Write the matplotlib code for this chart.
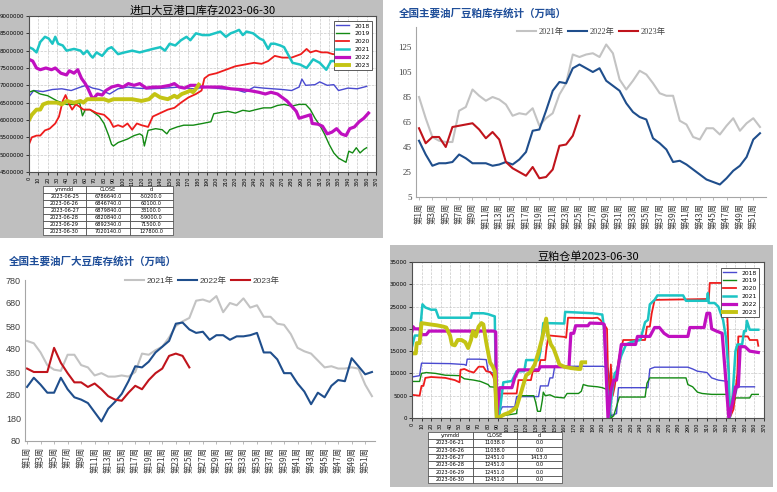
import matplotlib
matplotlib.use("Agg")
import matplotlib.pyplot as plt
from matplotlib.patches import Rectangle
import numpy as np

plt.rcParams['font.family'] = ['Noto Sans CJK SC', 'DejaVu Sans']

W, H = 777, 492

# ---------- data: 进口大豆港口库存 (millions of tons, by day of year) ----------
port_years = ['2018', '2019', '2020', '2021', '2022', '2023']
port_2018_d = [0, 5, 15, 25, 35, 45, 55, 61, 68, 75, 86, 95, 105, 115, 130, 145, 160, 175, 190, 205,
               220, 230, 240, 250, 260, 270, 280, 288, 291, 295, 305, 310, 318, 325, 330, 340, 350, 360]
port_2018_v = [6.67, 6.85, 6.82, 6.88, 6.9, 6.85, 6.95, 7.0, 6.92, 6.88, 6.75, 6.9, 6.95, 6.92, 6.9, 6.92, 6.95, 6.9, 6.95, 6.9,
               6.88, 6.8, 6.95, 6.92, 6.9, 6.88, 6.85, 6.95, 7.18, 7.0, 7.02, 7.1, 7.0, 7.02, 6.85, 6.92, 6.9, 6.97]
port_2019_d = [0, 5, 12, 20, 30, 40, 50, 54, 57, 60, 65, 70, 75, 80, 85, 88, 90, 95, 105, 112,
               118, 121, 123, 127, 135, 142, 147, 150, 158, 165, 175, 185, 194, 197, 205, 212, 220, 228, 235, 242,
               250, 258, 265, 272, 280, 288, 295, 300, 305, 310, 315, 320, 325, 330, 338, 341, 345, 349, 353, 357, 360]
port_2019_v = [6.8, 6.85, 6.75, 6.7, 6.55, 6.45, 6.45, 6.5, 6.12, 6.3, 6.3, 6.2, 6.1, 5.9, 5.55, 5.3, 5.25, 5.35, 5.45, 5.55,
               5.6, 5.55, 5.25, 5.7, 5.75, 5.72, 5.6, 5.72, 5.8, 5.85, 5.85, 5.9, 5.95, 6.18, 6.22, 6.25, 6.2, 6.28, 6.25, 6.3,
               6.35, 6.35, 6.42, 6.45, 6.4, 6.45, 6.45, 6.3, 6.05, 5.85, 5.6, 5.3, 5.05, 4.9, 4.78, 5.1, 5.05, 5.2, 5.05, 5.15, 5.2]
port_2020_d = [0, 3, 8, 12, 17, 22, 28, 32, 36, 39, 42, 46, 50, 53, 58, 65, 72, 80, 86, 90,
               95, 100, 105, 110, 115, 120, 127, 132, 140, 148, 155, 162, 170, 178, 184, 187, 192, 200, 210, 220,
               230, 240, 248, 255, 262, 270, 280, 290, 296, 300, 306, 312, 318, 324, 330, 333]
port_2020_v = [5.3, 5.5, 5.55, 5.55, 5.7, 5.75, 5.9, 6.1, 6.55, 6.72, 6.5, 6.3, 6.45, 6.4, 6.3, 6.3, 6.2, 6.15, 6.0, 5.8,
               5.85, 5.8, 5.9, 5.72, 5.9, 5.85, 5.8, 6.1, 6.2, 6.3, 6.35, 6.5, 6.65, 6.75, 6.85, 7.2, 7.3, 7.35, 7.45, 7.55,
               7.6, 7.65, 7.62, 7.7, 7.85, 7.8, 7.8, 7.9, 8.05, 7.95, 8.0, 7.95, 7.95, 7.9, 7.9, 7.85]
port_2021_d = [0, 4, 8, 12, 17, 21, 25, 28, 31, 36, 40, 48, 55, 58, 62, 66, 68, 72, 78, 84,
               88, 95, 102, 110, 118, 125, 132, 140, 145, 150, 156, 162, 168, 172, 178, 185, 192, 198, 204, 210,
               215, 220, 224, 228, 232, 239, 246, 250, 255, 258, 262, 268, 272, 276, 281, 289, 296, 303, 310, 317,
               322, 330, 336, 339]
port_2021_v = [8.1, 8.05, 7.95, 8.25, 8.4, 8.35, 8.2, 8.4, 8.2, 8.15, 8.0, 8.05, 8.0, 7.9, 8.0, 7.85, 7.8, 7.95, 7.85, 8.05,
               8.1, 7.9, 7.95, 8.0, 7.95, 8.0, 8.05, 8.1, 8.0, 8.2, 8.15, 8.3, 8.4, 8.3, 8.5, 8.45, 8.45, 8.5, 8.55, 8.4,
               8.5, 8.55, 8.6, 8.45, 8.55, 8.5, 8.35, 8.3, 8.05, 8.2, 8.2, 8.15, 8.1, 7.9, 7.65, 7.6, 7.5, 7.75, 7.65, 7.45,
               7.7, 7.7, 7.65, 7.48]
port_2022_d = [0, 4, 8, 12, 18, 24, 28, 34, 40, 43, 48, 52, 56, 60, 63, 68, 73, 78, 82, 88,
               95, 100, 106, 112, 118, 125, 132, 140, 150, 155, 160, 166, 172, 178, 185, 195, 205, 215, 225, 235,
               245, 252, 258, 265, 270, 275, 280, 285, 288, 294, 300, 302, 308, 313, 318, 323, 328, 333, 338, 342,
               347, 352, 357, 362]
port_2022_v = [7.75, 7.7, 7.5, 7.45, 7.5, 7.45, 7.5, 7.35, 7.3, 7.42, 7.35, 7.45, 7.2, 7.05, 6.9, 6.6, 6.75, 6.72, 6.85, 6.95,
               7.0, 6.95, 7.05, 7.0, 7.05, 6.92, 6.95, 6.95, 7.0, 7.05, 6.95, 6.92, 7.0, 7.0, 6.95, 6.95, 6.95, 6.9, 6.88, 6.85,
               6.8, 6.75, 6.8, 6.75, 6.65, 6.55, 6.4, 6.25, 6.05, 6.1, 6.15, 5.9, 5.88, 5.82, 5.6, 5.65, 5.75, 5.6, 5.55, 5.75,
               5.8, 5.95, 6.05, 6.2]
port_2023_d = [0, 3, 8, 12, 15, 20, 30, 35, 40, 48, 55, 58, 62, 70, 80, 85, 90, 100, 110, 120,
               128, 134, 140, 148, 155, 158, 163, 168, 172, 175, 178, 181]
port_2023_v = [6.0, 6.15, 6.3, 6.3, 6.45, 6.5, 6.5, 6.45, 6.55, 6.5, 6.55, 6.5, 6.6, 6.6, 6.6, 6.55, 6.6, 6.6, 6.6, 6.55,
               6.6, 6.75, 6.65, 6.6, 6.7, 6.65, 6.75, 6.8, 6.85, 6.8, 6.9, 7.02]

port_tab_dates = ['2023-06-25', '2023-06-26', '2023-06-27', '2023-06-28', '2023-06-29', '2023-06-30']
port_tab_close = ['6786640.0', '6846740.0', '6879840.0', '6820840.0', '6892340.0', '7020140.0']
port_tab_d = ['-50200.0', '60100.0', '33100.0', '-59000.0', '71500.0', '127800.0']

# ---------- data: 豆粕仓单 (thousands, by day of year) ----------
cd_2018_d = [0, 8, 10, 40, 55, 57, 58, 70, 78, 80, 86, 88, 90, 95, 108, 110, 133, 135, 143, 145,
             148, 150, 200, 203, 206, 208, 209, 215, 217, 248, 250, 255, 290, 295, 300, 310, 315, 322, 332, 333,
             335, 340, 342, 360]
cd_2018_v = [9.2, 9.5, 12.3, 12.2, 12.0, 11.8, 13.2, 13.2, 13.1, 10.5, 10.0, 0.0, 0.5, 2.5, 2.5, 4.8, 4.8, 7.2, 7.2, 9.0,
             9.0, 11.6, 11.6, 11.5, 11.2, 8.8, 0.5, 1.0, 6.8, 6.8, 11.0, 11.4, 11.4, 11.0, 10.5, 10.2, 9.0, 8.5, 8.2, 0.0,
             2.0, 5.0, 7.0, 7.0]
cd_2019_d = [0, 8, 10, 15, 25, 35, 50, 55, 65, 72, 80, 82, 88, 90, 95, 110, 112, 128, 130, 132,
             135, 137, 138, 140, 145, 150, 160, 163, 175, 178, 180, 185, 195, 200, 205, 207, 209, 212, 218, 245,
             247, 250, 288, 290, 295, 300, 305, 315, 331, 333, 340, 355, 357, 364]
cd_2019_v = [8.2, 8.2, 10.0, 10.2, 10.0, 9.6, 9.5, 8.8, 8.5, 8.2, 7.5, 7.0, 6.9, 0.0, 0.5, 1.0, 5.0, 5.0, 3.5, 1.5,
             1.5, 4.0, 5.8, 5.0, 5.2, 4.7, 4.5, 5.5, 5.5, 6.0, 7.5, 7.2, 7.0, 6.8, 6.4, 6.2, 0.0, 0.5, 4.7, 4.7,
             7.8, 9.0, 9.0, 7.5, 7.0, 5.8, 5.5, 5.3, 5.3, 0.0, 4.5, 4.5, 5.3, 5.3]
cd_2020_d = [0, 8, 10, 12, 14, 20, 35, 45, 50, 51, 55, 60, 65, 70, 75, 78, 82, 85, 88, 90,
             92, 94, 110, 112, 125, 127, 133, 135, 140, 141, 143, 145, 160, 162, 164, 190, 195, 198, 202, 205,
             207, 209, 211, 213, 215, 218, 222, 245, 247, 250, 252, 255, 312, 313, 327, 330, 332, 334, 338, 342,
             343, 353, 355, 363, 364]
cd_2020_v = [5.2, 5.0, 7.2, 7.2, 9.0, 9.2, 9.0, 8.5, 8.0, 10.8, 11.0, 10.5, 10.2, 11.5, 11.5, 10.5, 10.3, 9.5, 7.5, 0.0,
             1.0, 5.5, 5.5, 8.5, 8.5, 10.5, 10.5, 13.0, 13.0, 15.0, 18.0, 18.5, 18.2, 18.0, 22.5, 22.4, 22.5, 22.0, 21.0, 20.0,
             0.0, 12.0, 5.0, 7.0, 10.0, 14.0, 17.5, 17.5, 20.5, 20.5, 23.5, 26.5, 26.7, 30.3, 30.3, 30.0, 20.0, 0.0, 2.0, 10.0,
             18.3, 18.3, 17.5, 17.5, 16.2]
cd_2021_d = [0, 3, 8, 11, 14, 20, 25, 28, 62, 63, 75, 80, 84, 87, 88, 89, 92, 96, 105, 110,
             118, 120, 133, 135, 138, 160, 161, 190, 200, 202, 207, 210, 213, 215, 220, 225, 230, 240, 245, 248,
             250, 255, 258, 285, 288, 310, 311, 312, 318, 322, 327, 330, 333, 334, 337, 340, 342, 347, 349, 351,
             352, 355, 364]
cd_2021_v = [16.0, 18.5, 18.5, 25.5, 24.8, 24.3, 24.3, 22.5, 22.5, 23.5, 23.5, 23.3, 23.0, 22.8, 10.0, 0.0, 1.0, 8.0, 8.3, 10.5,
             10.5, 13.0, 13.0, 15.0, 21.3, 21.2, 23.8, 23.5, 23.2, 20.0, 0.0, 5.0, 10.0, 10.5, 14.0, 16.5, 17.0, 17.5, 21.5, 22.0,
             25.5, 26.5, 27.5, 27.5, 26.3, 26.3, 28.0, 25.8, 25.8, 25.0, 22.0, 18.0, 10.0, 0.0, 5.0, 15.0, 16.5, 16.5, 19.5, 19.5,
             21.8, 19.8, 19.8]
cd_2022_d = [0, 1, 3, 8, 10, 15, 18, 86, 88, 89, 92, 105, 108, 112, 133, 135, 165, 167, 170, 172,
             185, 187, 200, 202, 206, 209, 212, 215, 220, 235, 237, 250, 255, 260, 265, 270, 290, 292, 307, 310,
             313, 315, 320, 326, 333, 337, 340, 343, 345, 350, 355, 364]
cd_2022_v = [19.5, 20.5, 20.0, 20.0, 18.7, 18.7, 19.5, 19.5, 19.3, 0.0, 6.8, 6.8, 9.0, 10.8, 10.8, 11.5, 11.5, 19.0, 19.0, 20.7,
             20.7, 21.3, 21.2, 21.0, 0.0, 6.0, 8.5, 8.5, 16.5, 16.5, 18.3, 18.3, 20.3, 20.3, 19.0, 18.3, 18.3, 20.3, 20.3, 23.5,
             23.5, 20.0, 19.5, 19.0, 0.0, 3.5, 7.0, 7.0, 16.0, 16.0, 15.0, 14.7]
cd_2023_d = [0, 4, 5, 8, 10, 19, 26, 33, 36, 40, 42, 45, 48, 52, 56, 59, 62, 64, 67, 70,
             73, 75, 78, 82, 85, 87, 89, 93, 97, 102, 106, 110, 115, 120, 124, 129, 133, 137, 141, 143,
             146, 149, 155, 160, 167, 175, 177, 178, 182]
cd_2023_v = [14.5, 14.5, 16.8, 16.8, 21.3, 21.0, 20.8, 20.5, 20.3, 18.5, 16.5, 16.3, 17.5, 17.5, 17.0, 15.7, 17.5, 19.5, 18.3, 20.5,
             21.3, 21.0, 17.0, 12.5, 11.5, 10.5, 0.0, 0.3, 0.8, 1.2, 1.8, 2.5, 6.0, 9.6, 10.2, 12.0, 14.8, 18.0, 22.3, 18.5,
             16.5, 15.5, 12.0, 11.5, 11.2, 11.0, 11.0, 12.5, 12.5]

cd_tab_dates = ['2023-06-21', '2023-06-26', '2023-06-27', '2023-06-28', '2023-06-29', '2023-06-30']
cd_tab_close = ['11038.0', '11038.0', '12451.0', '12451.0', '12451.0', '12451.0']
cd_tab_d = ['0.0', '0.0', '1413.0', '0.0', '0.0', '0.0']

# ---------- data: 全国主要油厂豆粕库存 (万吨, weeks 1..52) ----------
weeks = list(range(1, 53))
week_labels = ['第%d周' % w for w in weeks]
meal_2021 = [85, 68, 53, 50, 49, 49, 74, 77, 91, 86, 82, 85, 83, 79, 70, 72, 71, 76, 62, 68,
             72, 87, 96, 119, 117, 119, 120, 117, 127, 120, 99, 91, 98, 106, 103, 96, 88, 86, 86, 66,
             63, 53, 51, 60, 60, 55, 62, 68, 58, 64, 68, 61]
meal_2022 = [50, 39, 30, 32, 32, 33, 39, 36, 32, 32, 32, 30, 31, 33, 31, 35, 41, 58, 59, 74,
             90, 97, 96, 108, 111, 108, 105, 108, 98, 94, 90, 80, 73, 69, 67, 52, 48, 43, 33, 34,
             31, 27, 23, 19, 17, 15, 20, 26, 30, 37, 51, 56]
meal_2023 = [60, 48, 53, 53, 45, 61, 62, 63, 64, 59, 52, 57, 51, 33, 28, 25, 22, 29, 20, 21,
             27, 46, 47, 54, 70]

# ---------- data: 全国主要油厂大豆库存 (万吨) ----------
bean_2021 = [515, 505, 465, 410, 390, 385, 455, 455, 410, 400, 365, 375, 360, 360, 365, 360, 380, 460, 455, 475,
             490, 530, 580, 600, 615, 690, 695, 685, 710, 640, 680, 670, 700, 660, 670, 620, 620, 590, 585, 545,
             485, 470, 460, 430, 400, 405, 395, 395, 400, 395, 325, 275]
bean_2022 = [315, 355, 325, 290, 290, 355, 305, 270, 260, 245, 205, 165, 220, 250, 285, 340, 405, 400, 425, 465,
             490, 515, 590, 595, 565, 550, 555, 520, 540, 540, 520, 535, 535, 540, 550, 465, 465, 435, 375, 375,
             330, 295, 240, 290, 270, 320, 345, 340, 440, 405, 370, 380]
bean_2023 = [395, 380, 380, 380, 485, 420, 375, 335, 335, 315, 330, 305, 275, 260, 255, 290, 320, 305, 345, 375,
             395, 450, 460, 450, 400]

classic_colors = ['#4a4ad0', '#138a13', '#ee1c1c', '#1cc4c4', '#c010c0', '#c4c414']
classic_lw = [1.0, 1.0, 1.3, 1.8, 2.3, 2.8]


def rect(l, t, r, b):
    return [l / W, 1 - b / H, (r - l) / W, (b - t) / H]


fig = plt.figure(figsize=(W / 100, H / 100), dpi=100)
fig.patch.set_facecolor('white')

# gray backgrounds of the two "terminal" charts
fig.patches.append(Rectangle((0, 1 - 238 / H), 383 / W, 238 / H, transform=fig.transFigure,
                             facecolor='#bfbfbf', edgecolor='none', zorder=-5))
fig.patches.append(Rectangle((390 / W, 1 - 487 / H), 383 / W, 242 / H, transform=fig.transFigure,
                             facecolor='#bfbfbf', edgecolor='none', zorder=-5))


def classic_panel(ax, series, title, ylim, yticks, ytick_fmt, legend_anchor):
    for (d, v, scale), name, c, lw in zip(series, port_years, classic_colors, classic_lw):
        ax.plot(d, np.array(v) * scale, color=c, lw=lw, label=name)
    ax.set_xlim(0, 370)
    ax.set_ylim(*ylim)
    ax.set_xticks(range(0, 371, 10))
    ax.set_xticklabels([str(t) for t in range(0, 371, 10)], rotation=90, fontsize=3.5,
                       family='DejaVu Sans')
    ax.set_yticks(yticks)
    ax.set_yticklabels([ytick_fmt % t for t in yticks], fontsize=4, family='DejaVu Sans')
    ax.tick_params(length=2, width=0.5, pad=1.5)
    ax.grid(True, color='#c8c8c8', linestyle='--', lw=0.5)
    ax.set_axisbelow(True)
    for s in ax.spines.values():
        s.set_color('#505050')
        s.set_linewidth(0.8)
    ax.set_title(title, fontsize=8, pad=1.5)
    leg = ax.legend(loc='upper right', bbox_to_anchor=legend_anchor, bbox_transform=fig.transFigure,
                    handlelength=2.2, labelspacing=0.45, borderpad=0.4,
                    fancybox=False, framealpha=1, edgecolor='#404040', prop={'family': 'DejaVu Sans', 'size': 4.3})
    leg.get_frame().set_linewidth(0.6)


def small_table(rect_px, dates, close, diff):
    tax = fig.add_axes(rect(*rect_px))
    tax.axis('off')
    cells = [[a, b, c] for a, b, c in zip(dates, close, diff)]
    tb = tax.table(cellText=cells, colLabels=['ymmdd', 'CLOSE', 'd'], bbox=[0, 0, 1, 1],
                   cellLoc='center')
    tb.auto_set_font_size(False)
    tb.set_fontsize(3.6)
    for cell in tb.get_celld().values():
        cell.set_edgecolor('#404040')
        cell.set_linewidth(0.5)
        cell.set_facecolor('white')
        cell.get_text().set_family('DejaVu Sans')


# ----- panel 1: 进口大豆港口库存 -----
ax1 = fig.add_axes(rect(29, 16, 376, 172))
classic_panel(ax1,
              [(port_2018_d, port_2018_v, 1e6), (port_2019_d, port_2019_v, 1e6), (port_2020_d, port_2020_v, 1e6),
               (port_2021_d, port_2021_v, 1e6), (port_2022_d, port_2022_v, 1e6), (port_2023_d, port_2023_v, 1e6)],
              '进口大豆港口库存2023-06-30', (4.5e6, 9.0e6), np.arange(4500000, 9000001, 500000), '%d',
              (375 / W, 1 - 18 / H))
small_table((43, 186, 173, 235), port_tab_dates, port_tab_close, port_tab_d)

# ----- panel 4: 豆粕仓单 -----
ax4 = fig.add_axes(rect(412, 262, 764, 418))
classic_panel(ax4,
              [(cd_2018_d, cd_2018_v, 1e3), (cd_2019_d, cd_2019_v, 1e3), (cd_2020_d, cd_2020_v, 1e3),
               (cd_2021_d, cd_2021_v, 1e3), (cd_2022_d, cd_2022_v, 1e3), (cd_2023_d, cd_2023_v, 1e3)],
              '豆粕仓单2023-06-30', (0, 35000), np.arange(0, 35001, 5000), '%d',
              (762 / W, 1 - 265 / H))
small_table((428, 432, 562, 483), cd_tab_dates, cd_tab_close, cd_tab_d)


# ----- weekly Excel-style panels -----
def weekly_panel(ax, s21, s22, s23, ylim, yticks, tick_family, legend_xy, title, title_xy):
    ax.plot(weeks, s21, color='#c3c3c3', lw=1.5, label='2021年')
    ax.plot(weeks, s22, color='#1f4e8c', lw=1.5, label='2022年')
    ax.plot(weeks[:len(s23)], s23, color='#c0141c', lw=1.5, label='2023年')
    ax.set_ylim(*ylim)
    ax.set_yticks(yticks)
    ax.set_yticklabels([str(t) for t in yticks], fontsize=6.5, family=tick_family, color='#404040')
    ax.set_xticks(weeks[::2])
    ax.set_xticklabels(week_labels[::2], rotation=90, fontsize=6, color='#404040',
                       family=['Noto Sans CJK SC', 'DejaVu Sans'])
    ax.tick_params(axis='y', length=0, pad=3)
    ax.tick_params(axis='x', length=2, width=0.5, color='#a0a0a0', pad=2)
    for s in ['top', 'right']:
        ax.spines[s].set_visible(False)
    for s in ['left', 'bottom']:
        ax.spines[s].set_color('#a6a6a6')
        ax.spines[s].set_linewidth(0.8)
    ax.legend(loc='center', bbox_to_anchor=legend_xy, bbox_transform=fig.transFigure, ncol=3,
              frameon=False, handlelength=2.3, handletextpad=0.3, columnspacing=0.5,
              prop={'family': [tick_family, 'Noto Sans CJK SC'], 'size': 6}, labelcolor='#404040')
    fig.text(title_xy[0], title_xy[1], title, fontsize=7.6, fontweight='bold', color='#1f4e99',
             va='center', ha='left')


ax2 = fig.add_axes(rect(416, 27, 766, 197))
weekly_panel(ax2, meal_2021, meal_2022, meal_2023, (5, 141), list(range(5, 126, 20)), 'Liberation Serif',
             (591 / W, 1 - 32 / H), '全国主要油厂豆粕库存统计（万吨）', (399 / W, 1 - 13 / H))
ax2.set_xlim(0.55, 52.9)

ax3 = fig.add_axes(rect(25, 280, 375, 441))
weekly_panel(ax3, bean_2021, bean_2022, bean_2023, (80, 780), list(range(80, 781, 100)), 'Liberation Sans',
             (202 / W, 1 - 281 / H), '全国主要油厂大豆库存统计（万吨）', (9 / W, 1 - 261 / H))
ax3.set_xlim(0.7, 52.45)

fig.savefig('out.png', dpi=100)
